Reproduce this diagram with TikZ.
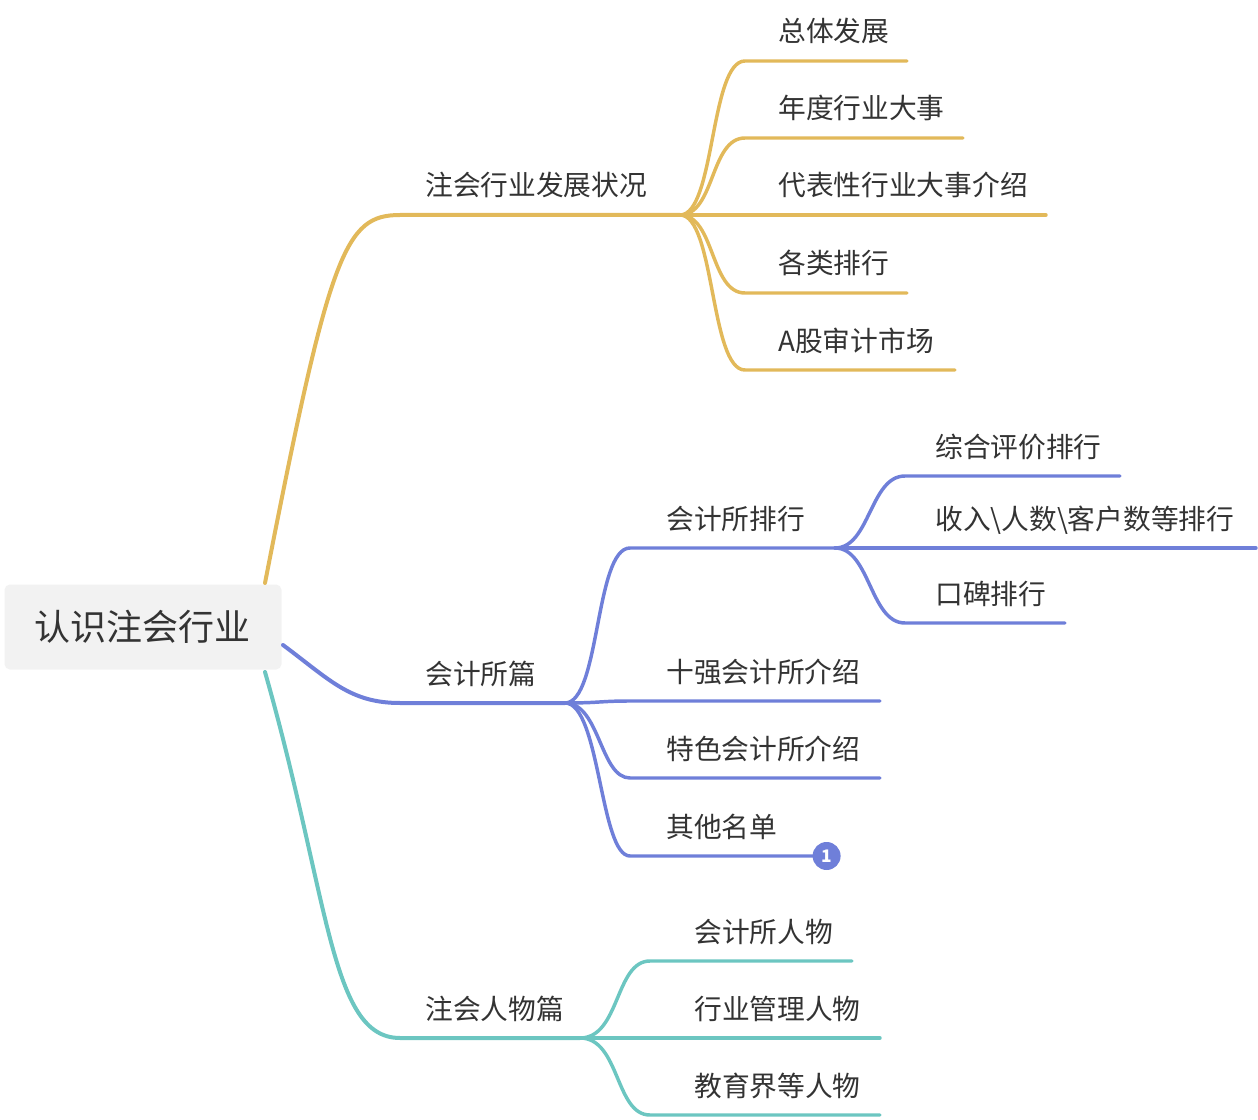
\documentclass[tikz,border=0pt]{standalone}
\usepackage{fontspec}
\setmainfont{Noto Sans CJK SC}
\usetikzlibrary{positioning}
\definecolor{ylw}{HTML}{E2B95A}
\definecolor{blu}{HTML}{6F7FD9}
\definecolor{tea}{HTML}{6CC6C1}
\definecolor{txt}{HTML}{333333}
\begin{document}
\begin{tikzpicture}[
    x=0.75pt, y=-0.75pt,
    label/.style={anchor=base west, inner sep=0pt, text=txt, font=\fontsize{20.8}{23}\selectfont},
    branch/.style={line width=3pt, line cap=round},
    twig/.style={line width=2.6pt, line cap=round}
]
  \useasboundingbox (0,0) rectangle (1258,1120);
  % root
  \node[fill=gray!10, rounded corners=4pt, minimum width=277*0.75pt, minimum height=85*0.75pt,
        text=txt, font=\fontsize{27}{30}\selectfont] (root) at (143,627) {认识注会行业};
  \coordinate (rY) at (265,583);
  \coordinate (rB) at (283,645);
  \coordinate (rT) at (265,672);

  % main branches
  \node[label] (state) at (425,196) {注会行业发展状况};
  \coordinate (stateS) at (400,215); \coordinate (stateE) at (680,215);
  \draw[branch, ylw] (rY) .. controls (330,250) and (345,215) .. (stateS) -- (stateE);

  \node[label] (firm) at (425,684) {会计所篇};
  \coordinate (firmS) at (400,703); \coordinate (firmE) at (565,703);
  \draw[branch, blu] (rB) .. controls (330,680) and (350,703) .. (firmS) -- (firmE);

  \node[label] (people) at (425,1019) {注会人物篇};
  \coordinate (peopleS) at (400,1038); \coordinate (peopleE) at (580,1038);
  \draw[branch, tea] (rT) .. controls (330,900) and (330,1038) .. (peopleS) -- (peopleE);

  % yellow leaves
  \foreach \n/\y/\e/\t in {a/61/907/总体发展, b/138/963/年度行业大事, c/215/1046/代表性行业大事介绍,
                           d/293/907/各类排行, e/370/955/A股审计市场} {
    \node[label] (y\n) at (778,\y-19) {\t};
    \coordinate (y\n S) at (745,\y); \coordinate (y\n E) at (\e,\y);
    \draw[twig, ylw] (stateE) .. controls (715,215) and (710,\y) .. (y\n S) -- (y\n E);
  }

  % blue leaves
  \node[label] (rank) at (666,529) {会计所排行};
  \coordinate (rankS) at (630,548); \coordinate (rankE) at (835,548);
  \draw[twig, blu] (firmE) .. controls (600,703) and (595,548) .. (rankS) -- (rankE);
  \foreach \n/\y/\e/\t in {a/701/880/十强会计所介绍, b/778/880/特色会计所介绍, c/856/815/其他名单} {
    \node[label] (b\n) at (666,\y-19) {\t};
    \coordinate (b\n S) at (630,\y); \coordinate (b\n E) at (\e,\y);
    \draw[twig, blu] (firmE) .. controls (600,703) and (600,\y) .. (b\n S) -- (b\n E);
  }
  \node[circle, fill=blu, inner sep=0pt, minimum size=28*0.75pt, text=white,
        font=\bfseries\fontsize{13}{14}\selectfont, right=-2pt of bcE] (badge) {1};

  \foreach \n/\y/\e/\t in {a/476/1120/综合评价排行, b/548/1256/收入\textbackslash 人数\textbackslash 客户数等排行, c/623/1065/口碑排行} {
    \node[label] (r\n) at (935,\y-19) {\t};
    \coordinate (r\n S) at (905,\y); \coordinate (r\n E) at (\e,\y);
    \draw[twig, blu] (rankE) .. controls (870,548) and (870,\y) .. (r\n S) -- (r\n E);
  }

  % teal leaves
  \foreach \n/\y/\e/\t in {a/961/852/会计所人物, b/1038/880/行业管理人物, c/1115/880/教育界等人物} {
    \node[label] (t\n) at (694,\y-19) {\t};
    \coordinate (t\n S) at (650,\y); \coordinate (t\n E) at (\e,\y);
    \draw[twig, tea] (peopleE) .. controls (620,1038) and (615,\y) .. (t\n S) -- (t\n E);
  }
\end{tikzpicture}
\end{document}
